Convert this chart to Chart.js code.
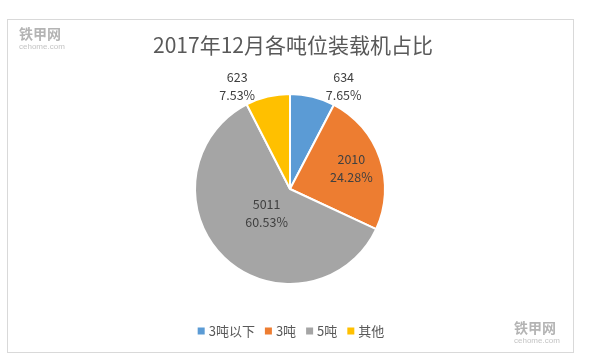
<!DOCTYPE html>
<html>
<head>
<meta charset="utf-8">
<script src="https://cdn.jsdelivr.net/npm/chart.js@4/dist/chart.umd.min.js"></script>
<style>
html,body{margin:0;padding:0;background:#fff;}
#wrap{width:590px;height:359px;}
</style>
</head>
<body>
<div id="wrap"><canvas id="c" width="590" height="359"></canvas></div>
<script>
const titleText = '2017年12月各吨位装载机占比';
const categories = ['3吨以下', '3吨', '5吨', '其他'];
const values = [634, 2010, 5011, 623];
const percentLabels = ['7.65%', '24.28%', '60.53%', '7.53%'];
const colors = ['#5b9bd5', '#ed7d31', '#a5a5a5', '#ffc000'];

const CJK = '"Noto Sans CJK SC", "Noto Sans", sans-serif';

const drawPlugin = {
  id: 'drawPlugin',
  beforeDraw(chart) {
    const ctx = chart.ctx;
    ctx.save();
    ctx.fillStyle = '#ffffff';
    ctx.fillRect(0, 0, chart.width, chart.height);
    ctx.restore();
  },
  afterDraw(chart) {
    const ctx = chart.ctx;
    ctx.save();
    // frame
    ctx.strokeStyle = '#d9d9d9';
    ctx.lineWidth = 1;
    ctx.strokeRect(7.5, 19.5, 566, 333);

    // watermarks
    function watermark(x, y) {
      ctx.fillStyle = '#b4b4b4';
      ctx.textAlign = 'left';
      ctx.textBaseline = 'top';
      ctx.font = 'bold 14px ' + CJK;
      ctx.fillText('铁甲网', x, y);
      ctx.font = '8px "Liberation Sans", sans-serif';
      ctx.fillStyle = '#c4c4c4';
      ctx.fillText('cehome.com', x, y + 16);
    }
    watermark(19, 27);
    watermark(514, 321);

    // title
    ctx.fillStyle = '#595959';
    ctx.font = '21px ' + CJK;
    ctx.textAlign = 'center';
    ctx.textBaseline = 'middle';
    ctx.fillText(titleText, 293, 45);

    // data labels
    const meta = chart.getDatasetMeta(0);
    const total = values.reduce((a, b) => a + b, 0);
    ctx.font = '12.5px ' + CJK;
    ctx.fillStyle = '#404040';
    meta.data.forEach((arc, i) => {
      const frac = values[i] / total;
      const mid = (arc.startAngle + arc.endAngle) / 2;
      const R = arc.outerRadius;
      let a, r;
      if (frac < 0.1) {
        let d = mid + Math.PI / 2;
        while (d > Math.PI) d -= 2 * Math.PI;
        a = -Math.PI / 2 + 2 * d;
        r = R * 1.22;
      } else {
        a = mid;
        r = R * (1 - frac) * 0.9;
      }
      const x = arc.x + r * Math.cos(a);
      const y = arc.y + r * Math.sin(a);
      ctx.textAlign = 'center';
      ctx.textBaseline = 'middle';
      ctx.fillText(String(values[i]), x, y - 9);
      ctx.fillText(percentLabels[i], x, y + 9);
    });

    // legend
    ctx.font = '13px ' + CJK;
    const box = 7, gapBT = 4, gapItem = 10;
    const widths = categories.map(c => ctx.measureText(c).width);
    let totalW = 0;
    widths.forEach((w, i) => { totalW += box + gapBT + w + (i < widths.length - 1 ? gapItem : 0); });
    let lx = 291 - totalW / 2;
    const ly = 331;
    categories.forEach((c, i) => {
      ctx.fillStyle = colors[i];
      ctx.fillRect(lx, ly - box / 2, box, box);
      ctx.fillStyle = '#595959';
      ctx.textAlign = 'left';
      ctx.textBaseline = 'middle';
      ctx.fillText(c, lx + box + gapBT, ly);
      lx += box + gapBT + widths[i] + gapItem;
    });
    ctx.restore();
  }
};

new Chart(document.getElementById('c'), {
  type: 'pie',
  data: {
    labels: categories,
    datasets: [{
      data: values,
      backgroundColor: colors,
      borderColor: '#ffffff',
      borderWidth: 2
    }]
  },
  options: {
    responsive: false,
    devicePixelRatio: 1,
    animation: false,
    layout: { padding: { top: 93, bottom: 74, left: 0, right: 10 } },
    plugins: {
      legend: { display: false },
      title: { display: false },
      tooltip: { enabled: false }
    }
  },
  plugins: [drawPlugin]
});
</script>
</body>
</html>
